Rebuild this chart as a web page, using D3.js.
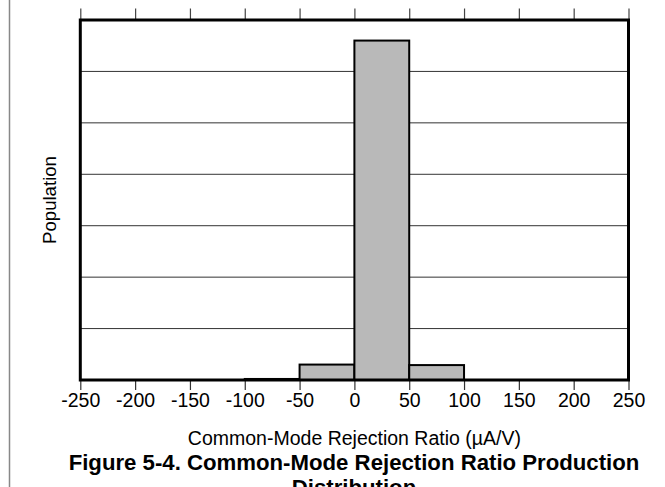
<!DOCTYPE html>
<html>
<head>
<meta charset="utf-8">
<script src="https://cdn.jsdelivr.net/npm/d3@7"></script>
<style>
  html, body { margin: 0; padding: 0; background: #fff; }
  svg { display: block; font-family: "Liberation Sans", Arial, sans-serif; }
</style>
</head>
<body>
<div id="chart"></div>
<script>
// histogram bins (µA/V) and relative population (no y scale shown)
const binStart = [-100, -50, 0, 50];
const binEnd = [-50, 0, 50, 100];
const population = [0.02, 0.3, 6.6, 0.29];
const xTicks = [-250, -200, -150, -100, -50, 0, 50, 100, 150, 200, 250];
const gridValues = [1, 2, 3, 4, 5, 6];

const width = 665;
const height = 487;
const margin = { top: 20, right: 36.5, bottom: 107, left: 80.3 };

const svg = d3.select('#chart')
  .append('svg')
  .attr('width', width)
  .attr('height', height);

// page edge line on the left
svg.append('line')
  .attr('x1', 9.5).attr('x2', 9.5)
  .attr('y1', 0).attr('y2', height)
  .attr('stroke', '#888')
  .attr('stroke-width', 1.5);

const x = d3.scaleLinear()
  .domain([-250, 250])
  .range([margin.left, width - margin.right]);

const y = d3.scaleLinear()
  .domain([0, 7])
  .range([height - margin.bottom, margin.top]);

// grid
svg.append('g')
  .selectAll('line')
  .data(gridValues)
  .join('line')
    .attr('x1', x(-250)).attr('x2', x(250))
    .attr('y1', d => y(d)).attr('y2', d => y(d))
    .attr('stroke', '#333')
    .attr('stroke-width', 1);

// bars
svg.append('g')
  .selectAll('rect')
  .data(population)
  .join('rect')
    .attr('x', (d, i) => x(binStart[i]))
    .attr('y', d => y(d))
    .attr('width', (d, i) => x(binEnd[i]) - x(binStart[i]))
    .attr('height', d => y(0) - y(d))
    .attr('fill', '#b9b9b9')
    .attr('stroke', '#000')
    .attr('stroke-width', 2);

// ticks top and bottom
function xAxisBottom(g) {
  g.attr('transform', `translate(0,${y(0)})`)
    .call(d3.axisBottom(x).tickValues(xTicks).tickSize(10).tickPadding(3).tickFormat(d => String(d)))
    .attr('font-size', '19.5px')
    .attr('font-family', '"Liberation Sans", Arial, sans-serif')
    .call(g => g.select('.domain').remove())
    .call(g => g.selectAll('.tick line').attr('stroke', '#333').attr('stroke-width', 1.2))
    .call(g => g.selectAll('.tick text').attr('fill', '#000'));
}
function xAxisTop(g) {
  g.attr('transform', `translate(0,${y(7)})`)
    .call(d3.axisTop(x).tickValues(xTicks).tickSize(11.5).tickFormat(''))
    .call(g => g.select('.domain').remove())
    .call(g => g.selectAll('.tick line').attr('stroke', '#444').attr('stroke-width', 1.2));
}
svg.append('g').call(xAxisBottom);
svg.append('g').call(xAxisTop);

// frame
svg.append('rect')
  .attr('x', x(-250))
  .attr('y', y(7))
  .attr('width', x(250) - x(-250))
  .attr('height', y(0) - y(7))
  .attr('fill', 'none')
  .attr('stroke', '#000')
  .attr('stroke-width', 3);

// axis titles
svg.append('text')
  .attr('x', (x(-250) + x(250)) / 2)
  .attr('y', 445)
  .attr('text-anchor', 'middle')
  .attr('font-size', '19.5px')
  .text('Common-Mode Rejection Ratio (\u00B5A/V)');

svg.append('text')
  .attr('transform', `translate(56,${(y(0) + y(7)) / 2}) rotate(-90)`)
  .attr('text-anchor', 'middle')
  .attr('font-size', '18.6px')
  .text('Population');

// caption
const caption = svg.append('text')
  .attr('text-anchor', 'middle')
  .attr('font-size', '22.2px')
  .attr('font-weight', 'bold');
caption.append('tspan')
  .attr('x', 354).attr('y', 470)
  .text('Figure 5-4. Common-Mode Rejection Ratio Production');
caption.append('tspan')
  .attr('x', 354).attr('y', 495)
  .text('Distribution');
</script>
</body>
</html>
